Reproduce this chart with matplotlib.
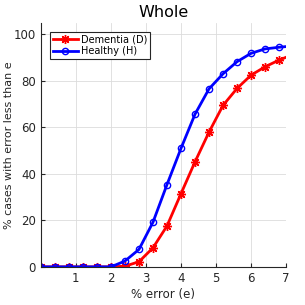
import numpy as np
import matplotlib.pyplot as plt

# error thresholds (%) and cumulative % of cases
err = [0.0, 0.4, 0.8, 1.2, 1.6, 2.0, 2.4, 2.8, 3.2, 3.6, 4.0, 4.4, 4.8, 5.2, 5.6, 6.0, 6.4, 6.8, 7.0]
dementia = [0, 0, 0, 0, 0, 0, 0.3, 2.2, 8.2, 17.6, 31.5, 45.2, 58.0, 69.5, 76.8, 82.5, 86.1, 89.0, 90.2]
healthy = [0, 0, 0, 0, 0, 0, 2.5, 7.5, 19.2, 35.4, 51.0, 65.7, 76.6, 83.1, 88.3, 91.9, 93.8, 94.5, 94.8]
xticks = [1, 2, 3, 4, 5, 6, 7]
yticks = [0, 20, 40, 60, 80, 100]

marks = list(range(len(err) - 1))

fig = plt.figure(figsize=(3.05, 3.05), dpi=100)
ax = fig.add_axes([0.134, 0.125, 0.804, 0.80])

ax.plot(err, dementia, color='red', lw=2, marker=(8, 2, 0), ms=6.5, mew=1,
        markevery=marks, label='Dementia (D)')
ax.plot(err, healthy, color='blue', lw=2, marker='o', ms=4.5, mew=1,
        mfc='none', markevery=marks, label='Healthy (H)')

ax.set_xlim(0, 7)
ax.set_ylim(0, 105)
ax.set_xticks(xticks)
ax.set_yticks(yticks)
ax.grid(True, color='#dcdcdc', lw=0.6)
ax.set_axisbelow(True)
for s in ['top', 'right']:
    ax.spines[s].set_visible(False)
for s in ['left', 'bottom']:
    ax.spines[s].set_color('#262626')
    ax.spines[s].set_linewidth(0.8)
ax.tick_params(direction='in', labelsize=8.5, colors='#262626', length=3)

ax.set_title('Whole', fontsize=11.5, pad=4)
ax.set_xlabel('% error (e)', fontsize=8.5, color='#262626', labelpad=2)
ax.set_ylabel('% cases with error less than e', fontsize=8, color='#262626')
ax.yaxis.set_label_coords(-0.11, 0.5)

leg = ax.legend(loc='upper left', fontsize=7, fancybox=False, framealpha=1,
                edgecolor='#262626', borderpad=0.3, handlelength=2.6,
                handletextpad=0.3, bbox_to_anchor=(0.037, 0.963), labelspacing=0.15,
                borderaxespad=0)
leg.get_frame().set_linewidth(0.8)

fig.savefig('out.png', dpi=100)
